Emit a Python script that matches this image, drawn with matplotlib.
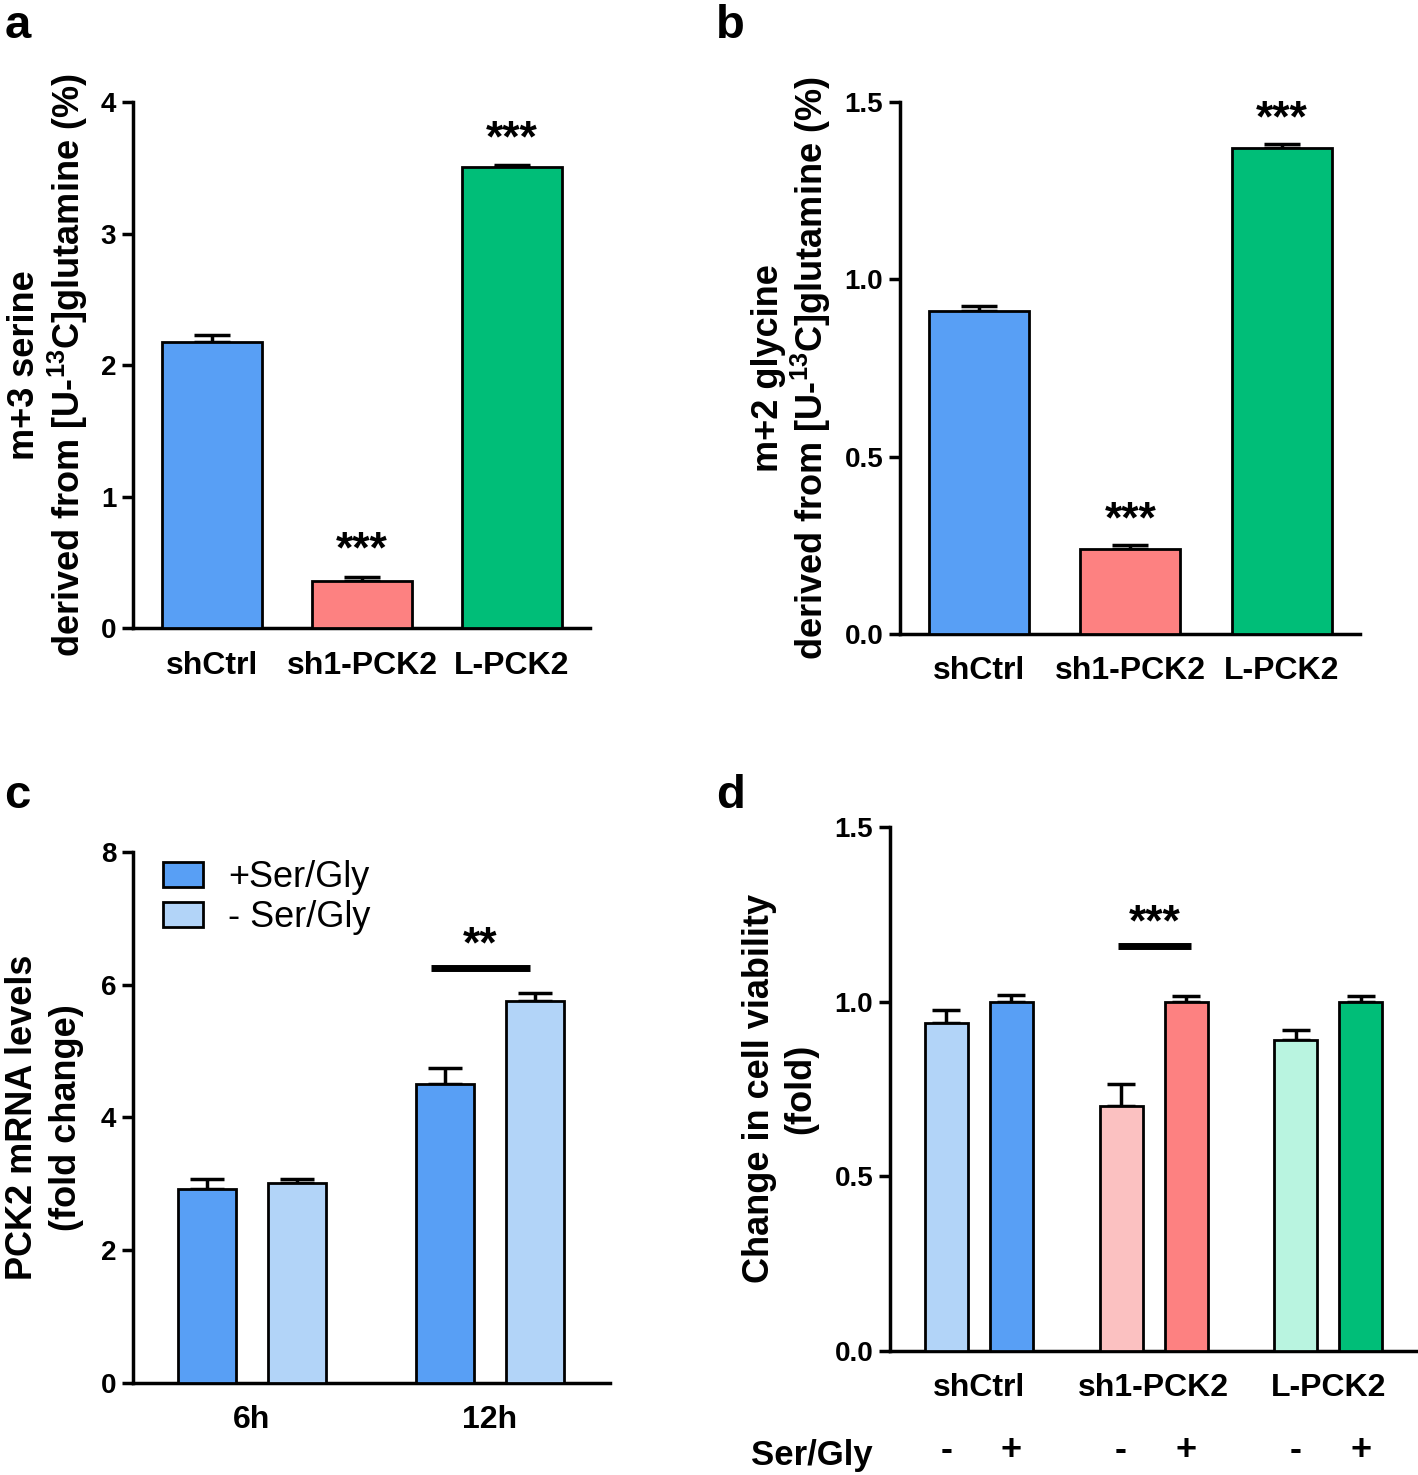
import matplotlib
matplotlib.use('Agg')
import matplotlib.pyplot as plt
import numpy as np

plt.rcParams['font.family'] = 'Liberation Sans'
plt.rcParams['font.weight'] = 'bold'
plt.rcParams['axes.labelweight'] = 'bold'
plt.rcParams['mathtext.fontset'] = 'custom'
plt.rcParams['mathtext.bf'] = 'Liberation Sans:bold'
plt.rcParams['mathtext.rm'] = 'Liberation Sans:bold'
plt.rcParams['mathtext.default'] = 'bf'

# panel a / b
groups = ['shCtrl', 'sh1-PCK2', 'L-PCK2']
serine = [2.18, 0.36, 3.51]
serine_err = [0.05, 0.03, 0.01]
serine_stars = ['', '***', '***']
glycine = [0.91, 0.24, 1.37]
glycine_err = [0.015, 0.01, 0.01]
glycine_stars = ['', '***', '***']

# panel c
times = ['6h', '12h']
pck2_plus = [2.92, 4.50]
pck2_plus_err = [0.15, 0.25]
pck2_minus = [3.02, 5.76]
pck2_minus_err = [0.05, 0.12]

# panel d
viab_minus = [0.94, 0.70, 0.89]
viab_minus_err = [0.035, 0.065, 0.03]
viab_plus = [1.0, 1.0, 1.0]
viab_plus_err = [0.02, 0.015, 0.015]

blue = '#589ff5'
pink = '#fd8181'
green = '#00be78'
light_blue = '#b2d4f8'
light_pink = '#fbc1c1'
light_green = '#b9f4e0'

LW = 2.5
STAR = 32


def style(ax):
    for s in ['top', 'right']:
        ax.spines[s].set_visible(False)
    for s in ['left', 'bottom']:
        ax.spines[s].set_linewidth(LW)
    ax.tick_params(axis='y', width=LW, length=8, labelsize=20, pad=4)
    ax.tick_params(axis='x', length=0, labelsize=23, pad=16)


def bars(ax, x, vals, errs, colors, width, cap):
    ax.bar(x, vals, width=width, color=colors, edgecolor='black', linewidth=2, zorder=3)
    ax.errorbar(x, vals, yerr=[np.zeros(len(vals)), errs], fmt='none', ecolor='black',
                elinewidth=LW, capsize=cap, capthick=LW, zorder=2)


fig = plt.figure(figsize=(14.18, 14.75), dpi=100)

# ---- a
ax = fig.add_axes([0.0938, 0.574, 0.322, 0.3566])
x = np.arange(len(groups))
bars(ax, x, serine, serine_err, [blue, pink, green], 0.667, 13)
for i, s in enumerate(serine_stars):
    if s:
        ax.text(x[i], serine[i] + serine_err[i] + 0.04, s, ha='center', va='bottom', fontsize=STAR)
ax.set_xlim(-0.527, 2.517)
ax.set_ylim(0, 4)
ax.set_yticks([0, 1, 2, 3, 4])
ax.set_xticks(x)
ax.set_xticklabels(groups)
ax.set_ylabel('m+3 serine\nderived from [U-$^{13}$C]glutamine (%)', fontsize=26, labelpad=8,
              linespacing=1.1)
style(ax)

# ---- b
ax = fig.add_axes([0.6347, 0.5702, 0.3244, 0.3607])
bars(ax, x, glycine, glycine_err, [blue, pink, green], 0.66, 13)
for i, s in enumerate(glycine_stars):
    if s:
        ax.text(x[i], glycine[i] + glycine_err[i] + 0.012, s, ha='center', va='bottom', fontsize=STAR)
ax.set_xlim(-0.52, 2.515)
ax.set_ylim(0, 1.5)
ax.set_yticks([0, 0.5, 1.0, 1.5])
ax.set_yticklabels(['0.0', '0.5', '1.0', '1.5'])
ax.set_xticks(x)
ax.set_xticklabels(groups)
ax.set_ylabel('m+2 glycine\nderived from [U-$^{13}$C]glutamine (%)', fontsize=26, labelpad=8,
              linespacing=1.1)
style(ax)

# ---- c
ax = fig.add_axes([0.0938, 0.0624, 0.3364, 0.36])
xt = np.arange(len(times))
off = 0.189
bars(ax, xt - off, pck2_plus, pck2_plus_err, [blue] * 2, 0.244, 12)
bars(ax, xt + off, pck2_minus, pck2_minus_err, [light_blue] * 2, 0.244, 12)
l0, l1 = xt[1] - off - 0.06, xt[1] + off - 0.02
ax.plot([l0, l1], [6.25, 6.25], color='black', lw=5, solid_capstyle='butt')
ax.text((l0 + l1) / 2, 6.28, '**', ha='center', va='bottom', fontsize=STAR)
ax.set_xlim(-0.5, 1.504)
ax.set_ylim(0, 8)
ax.set_yticks([0, 2, 4, 6, 8])
ax.set_xticks(xt)
ax.set_xticklabels(times)
ax.set_ylabel('PCK2 mRNA levels\n(fold change)', fontsize=26, labelpad=12, linespacing=1.35)
style(ax)
h1 = plt.Rectangle((0, 0), 1, 1, facecolor=blue, edgecolor='black', linewidth=2)
h2 = plt.Rectangle((0, 0), 1, 1, facecolor=light_blue, edgecolor='black', linewidth=2)
ax.legend([h1, h2], ['+Ser/Gly', '- Ser/Gly'], loc='upper left', bbox_to_anchor=(0.033, 1.012),
          frameon=False, prop={'weight': 'normal', 'size': 26}, handlelength=1.1,
          handleheight=0.7, labelspacing=0.15, handletextpad=0.7, borderaxespad=0)

# ---- d
ax = fig.add_axes([0.6276, 0.0841, 0.372, 0.3553])
xd = np.arange(len(groups))
off = 0.186
bars(ax, xd - off, viab_minus, viab_minus_err, [light_blue, light_pink, light_green], 0.246, 10)
bars(ax, xd + off, viab_plus, viab_plus_err, [blue, pink, green], 0.246, 10)
l0, l1 = xd[1] - off - 0.02, xd[1] + off + 0.03
ax.plot([l0, l1], [1.16, 1.16], color='black', lw=5, solid_capstyle='butt')
ax.text((l0 + l1) / 2, 1.165, '***', ha='center', va='bottom', fontsize=STAR)
ax.set_xlim(-0.509, 2.51)
ax.set_ylim(0, 1.5)
ax.set_yticks([0, 0.5, 1.0, 1.5])
ax.set_yticklabels(['0.0', '0.5', '1.0', '1.5'])
ax.set_xticks(xd)
ax.set_xticklabels(groups)
ax.set_ylabel('Change in cell viability\n(fold)', fontsize=26, labelpad=12, linespacing=1.2)
style(ax)
trans = ax.get_xaxis_transform()
for xi in xd:
    ax.text(xi - off, -0.19, '-', transform=trans, ha='center', va='center', fontsize=26)
    ax.text(xi + off, -0.19, '+', transform=trans, ha='center', va='center', fontsize=26)
ax.text(-0.61, -0.2, 'Ser/Gly', transform=trans, ha='right', va='center', fontsize=25)

# panel letters
fig.text(0.003, 0.997, 'a', fontsize=34, va='top')
fig.text(0.505, 0.997, 'b', fontsize=34, va='top')
fig.text(0.003, 0.475, 'c', fontsize=34, va='top')
fig.text(0.505, 0.475, 'd', fontsize=34, va='top')

fig.savefig('out.png', dpi=100)
